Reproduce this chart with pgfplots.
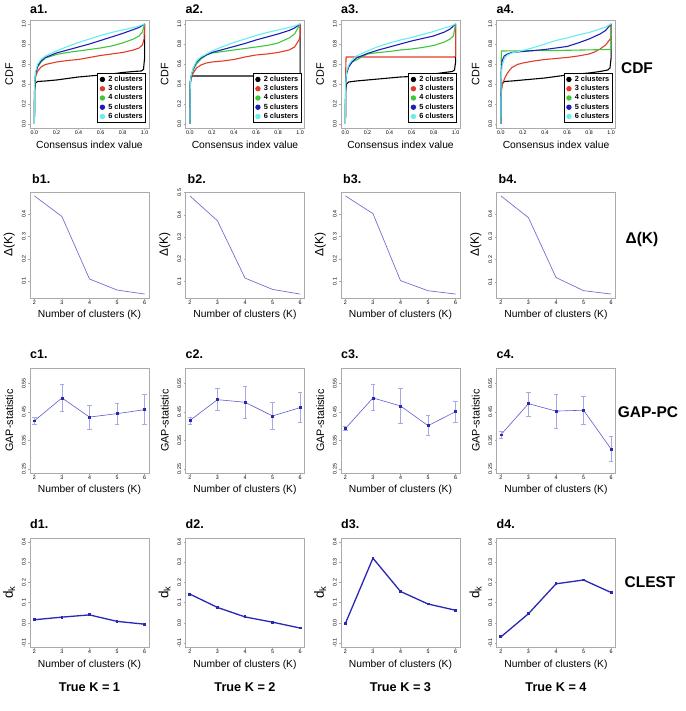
\documentclass[border=0pt]{standalone}
\usepackage{fontspec}
\setmainfont{Liberation Sans}
\usepackage{pgfplots}
\pgfplotsset{compat=1.18}
\definecolor{cR}{HTML}{E03C28}
\definecolor{cG}{HTML}{3CC83C}
\definecolor{cB}{HTML}{1E1EB4}
\definecolor{cC}{HTML}{66EEEE}
\definecolor{frameg}{HTML}{AAAAAA}
\definecolor{bline}{HTML}{7070D4}
\definecolor{gline}{HTML}{5A5AD2}
\definecolor{gmark}{HTML}{2828B0}
\definecolor{errc}{HTML}{A8A8E6}
\definecolor{dline}{HTML}{2828B4}
\pgfplotsset{
  rbase/.style={scale only axis, width=119pt,
    axis line style={draw=frameg, line width=0.7pt},
    tick style={draw=frameg, line width=0.4pt},
    tick align=outside, major tick length=1.6pt,
    xtick pos=bottom, ytick pos=left,
    ticklabel style={font=\fontsize{5.3}{6}\selectfont, inner sep=1pt},
    yticklabel style={rotate=90, anchor=south, inner sep=2.5pt},
    every axis y label/.style={at={(axis description cs:-0.175,0.5)}, rotate=90, anchor=center, font=\fontsize{10.8}{12}\selectfont},
    every axis x label/.style={at={(axis description cs:0.5,-0.16)}, anchor=center, font=\fontsize{10.3}{12}\selectfont},
  },
  cdfaxis/.style={rbase, height=108pt, xmin=-0.04, xmax=1.04, ymin=-0.04, ymax=1.04,
    xtick={0,0.2,0.4,0.6,0.8,1}, xticklabels={0.0,0.2,0.4,0.6,0.8,1.0},
    ytick={0,0.2,0.4,0.6,0.8,1}, yticklabels={0.0,0.2,0.4,0.6,0.8,1.0},
    xlabel={Consensus index value}, ylabel={CDF},
    legend image code/.code={\fill[##1] (0pt,0pt) circle (2.1pt);},
    legend style={at={(0.975,0.045)}, anchor=south east, draw=black, line width=1pt,
      font=\fontsize{7.4}{8}\selectfont\bfseries, row sep=1pt, inner sep=2pt,
      nodes={inner sep=0.7pt}, cells={anchor=west},
      /tikz/every odd column/.append style={column sep=2.5pt}},
  },
  cdfline/.style={line width=1.1pt, no marks},
  kaxis/.style={rbase, xmin=1.84, xmax=6.16, xtick={2,3,4,5,6}, xticklabels={2,3,4,5,6},
    xlabel={Number of clusters (K)}},
  daxis/.style={kaxis, height=106pt, enlarge y limits=0.04,
    ytick={0.1,0.2,0.3,0.4,0.5}, yticklabels={0.1,0.2,0.3,0.4,0.5}, ylabel={Δ(K)},
    ylabel style={font=\fontsize{12}{13}\selectfont}},
  bplot/.style={color=bline, line width=0.7pt, no marks},
  gaxis/.style={kaxis, height=105pt, ymin=0.236, ymax=0.604,
    ytick={0.25,0.35,0.45,0.55}, yticklabels={0.25,0.35,0.45,0.55}, ylabel={GAP-statistic}},
  gplot/.style={color=gline, line width=0.6pt, mark=square*, mark size=0.9pt,
    mark options={color=gmark},
    error bars/.cd, y dir=both, y explicit,
    error bar style={color=errc, line width=0.7pt},
    error mark options={rotate=90, mark size=2.2pt, color=errc, line width=0.7pt}},
  caxis/.style={kaxis, height=109pt, ymin=-0.12, ymax=0.42,
    ytick={-0.1,0,0.1,0.2,0.3,0.4}, yticklabels={-0.1,0.0,0.1,0.2,0.3,0.4},
    ylabel={d\textsubscript{k}}, ylabel style={font=\fontsize{13.5}{15}\selectfont}},
  cplot/.style={color=dline, line width=1.3pt, mark=square*, mark size=0.8pt},
}
\begin{document}
\begin{tikzpicture}[x=1pt,y=1pt]
\useasboundingbox (0,0) rectangle (685,711);

% ---------------- Row a: CDF ----------------
\begin{axis}[cdfaxis, at={(30pt,583pt)}, anchor=south west]
\addplot[cdfline, black] coordinates {(0,0) (0.001,0.33) (0.01,0.41) (0.03,0.425) (0.1,0.43) (0.2,0.44) (0.3,0.455) (0.4,0.47) (0.5,0.48) (0.6,0.49) (0.7,0.5) (0.8,0.515) (0.9,0.525) (0.97,0.53) (0.99,0.545) (1.0,0.66) (1.0,1.0)};
\addplot[cdfline, cR] coordinates {(0,0) (0.002,0.35) (0.01,0.47) (0.03,0.53) (0.06,0.57) (0.1,0.595) (0.2,0.62) (0.3,0.635) (0.4,0.645) (0.5,0.665) (0.6,0.685) (0.7,0.7) (0.8,0.715) (0.9,0.74) (0.95,0.76) (0.98,0.79) (0.995,0.85) (1.0,1.0)};
\addplot[cdfline, cG] coordinates {(0,0) (0.002,0.38) (0.01,0.5) (0.03,0.57) (0.06,0.62) (0.1,0.66) (0.2,0.695) (0.3,0.715) (0.4,0.73) (0.5,0.745) (0.6,0.76) (0.7,0.78) (0.8,0.81) (0.9,0.85) (0.95,0.88) (0.98,0.92) (1.0,1.0)};
\addplot[cdfline, cB] coordinates {(0,0) (0.002,0.38) (0.01,0.5) (0.03,0.58) (0.06,0.63) (0.1,0.665) (0.2,0.71) (0.3,0.74) (0.4,0.77) (0.5,0.8) (0.6,0.835) (0.7,0.87) (0.8,0.905) (0.9,0.945) (0.95,0.965) (1.0,1.0)};
\addplot[cdfline, cC] coordinates {(0,0) (0.002,0.4) (0.01,0.52) (0.03,0.6) (0.06,0.645) (0.1,0.68) (0.2,0.73) (0.3,0.775) (0.4,0.815) (0.5,0.85) (0.6,0.885) (0.7,0.915) (0.8,0.94) (0.9,0.965) (0.95,0.98) (1.0,1.0)};
\legend{2 clusters,3 clusters,4 clusters,5 clusters,6 clusters}
\end{axis}

\begin{axis}[cdfaxis, at={(185.5pt,583pt)}, anchor=south west]
\addplot[cdfline, black] coordinates {(0,0) (0.003,0.42) (0.01,0.465) (0.02,0.48) (1.0,0.48) (1.0,1.0)};
\addplot[cdfline, cR] coordinates {(0,0) (0.003,0.38) (0.01,0.45) (0.03,0.51) (0.06,0.56) (0.1,0.59) (0.15,0.61) (0.2,0.62) (0.3,0.63) (0.4,0.645) (0.5,0.67) (0.6,0.69) (0.7,0.7) (0.8,0.715) (0.9,0.74) (0.95,0.77) (0.99,0.84) (1.0,0.88) (1.0,1.0)};
\addplot[cdfline, cG] coordinates {(0,0) (0.003,0.4) (0.01,0.47) (0.03,0.54) (0.06,0.6) (0.1,0.65) (0.15,0.69) (0.2,0.71) (0.3,0.725) (0.4,0.74) (0.5,0.755) (0.6,0.77) (0.7,0.785) (0.8,0.81) (0.9,0.86) (0.95,0.9) (1.0,1.0)};
\addplot[cdfline, cB] coordinates {(0,0) (0.003,0.4) (0.01,0.47) (0.03,0.55) (0.06,0.62) (0.1,0.66) (0.15,0.69) (0.2,0.715) (0.3,0.745) (0.4,0.775) (0.5,0.805) (0.6,0.84) (0.7,0.87) (0.8,0.9) (0.9,0.935) (0.95,0.96) (1.0,1.0)};
\addplot[cdfline, cC] coordinates {(0,0) (0.003,0.4) (0.01,0.48) (0.03,0.56) (0.06,0.63) (0.1,0.67) (0.15,0.7) (0.2,0.73) (0.3,0.775) (0.4,0.815) (0.5,0.85) (0.6,0.885) (0.7,0.915) (0.8,0.94) (0.9,0.965) (0.95,0.98) (1.0,1.0)};
\legend{2 clusters,3 clusters,4 clusters,5 clusters,6 clusters}
\end{axis}

\begin{axis}[cdfaxis, at={(341pt,583pt)}, anchor=south west]
\addplot[cdfline, black] coordinates {(0,0) (0.002,0.32) (0.01,0.4) (0.03,0.42) (0.1,0.43) (0.2,0.44) (0.3,0.45) (0.4,0.46) (0.5,0.47) (0.6,0.475) (0.7,0.49) (0.8,0.5) (0.9,0.515) (0.97,0.525) (0.99,0.54) (1.0,0.62) (1.0,1.0)};
\addplot[cdfline, cR] coordinates {(0,0) (0.002,0.5) (0.006,0.67) (0.99,0.67) (1.0,0.68) (1.0,1.0)};
\addplot[cdfline, cG] coordinates {(0,0) (0.002,0.4) (0.01,0.52) (0.03,0.58) (0.06,0.62) (0.1,0.64) (0.15,0.67) (0.2,0.7) (0.3,0.715) (0.4,0.725) (0.5,0.74) (0.6,0.75) (0.7,0.765) (0.8,0.785) (0.9,0.82) (0.95,0.85) (0.98,0.88) (1.0,1.0)};
\addplot[cdfline, cB] coordinates {(0,0) (0.002,0.4) (0.01,0.5) (0.03,0.57) (0.06,0.62) (0.1,0.66) (0.2,0.705) (0.3,0.74) (0.4,0.77) (0.5,0.8) (0.6,0.83) (0.7,0.855) (0.8,0.88) (0.9,0.92) (0.95,0.95) (1.0,1.0)};
\addplot[cdfline, cC] coordinates {(0,0) (0.002,0.4) (0.01,0.52) (0.03,0.59) (0.06,0.64) (0.1,0.68) (0.2,0.73) (0.3,0.775) (0.4,0.81) (0.5,0.84) (0.6,0.865) (0.7,0.895) (0.8,0.925) (0.9,0.96) (0.95,0.975) (1.0,1.0)};
\legend{2 clusters,3 clusters,4 clusters,5 clusters,6 clusters}
\end{axis}

\begin{axis}[cdfaxis, at={(496.5pt,583pt)}, anchor=south west]
\addplot[cdfline, black] coordinates {(0,0) (0.002,0.3) (0.01,0.4) (0.03,0.425) (0.1,0.43) (0.2,0.44) (0.3,0.45) (0.4,0.46) (0.5,0.475) (0.6,0.49) (0.7,0.5) (0.8,0.51) (0.9,0.525) (0.97,0.54) (0.99,0.56) (1.0,0.66) (1.0,1.0)};
\addplot[cdfline, cR] coordinates {(0,0) (0.003,0.33) (0.01,0.38) (0.02,0.42) (0.04,0.47) (0.06,0.51) (0.08,0.54) (0.1,0.565) (0.15,0.595) (0.2,0.61) (0.3,0.63) (0.4,0.645) (0.5,0.655) (0.6,0.665) (0.7,0.68) (0.8,0.7) (0.85,0.72) (0.9,0.75) (0.95,0.79) (1.0,0.86) (1.0,1.0)};
\addplot[cdfline, cG] coordinates {(0,0) (0.002,0.6) (0.005,0.73) (0.5,0.735) (0.99,0.745) (1.0,0.75) (1.0,1.0)};
\addplot[cdfline, cB] coordinates {(0,0) (0.002,0.5) (0.01,0.63) (0.03,0.68) (0.06,0.7) (0.1,0.715) (0.2,0.725) (0.3,0.735) (0.4,0.745) (0.5,0.76) (0.6,0.775) (0.7,0.81) (0.8,0.85) (0.9,0.9) (0.95,0.935) (1.0,1.0)};
\addplot[cdfline, cC] coordinates {(0,0) (0.002,0.45) (0.01,0.58) (0.03,0.65) (0.06,0.69) (0.1,0.71) (0.2,0.735) (0.3,0.765) (0.4,0.8) (0.5,0.835) (0.6,0.86) (0.7,0.89) (0.8,0.915) (0.9,0.95) (0.95,0.97) (1.0,1.0)};
\legend{2 clusters,3 clusters,4 clusters,5 clusters,6 clusters}
\end{axis}

% ---------------- Row b: Delta(K) ----------------
\begin{axis}[daxis, at={(30pt,413pt)}, anchor=south west]
\addplot[bplot] coordinates {(2,0.48) (3,0.388) (4,0.11) (5,0.061) (6,0.043)};
\end{axis}
\begin{axis}[daxis, at={(185.5pt,413pt)}, anchor=south west]
\addplot[bplot] coordinates {(2,0.485) (3,0.373) (4,0.115) (5,0.064) (6,0.043)};
\end{axis}
\begin{axis}[daxis, at={(341pt,413pt)}, anchor=south west]
\addplot[bplot] coordinates {(2,0.482) (3,0.403) (4,0.103) (5,0.058) (6,0.043)};
\end{axis}
\begin{axis}[daxis, at={(496.5pt,413pt)}, anchor=south west]
\addplot[bplot] coordinates {(2,0.48) (3,0.384) (4,0.12) (5,0.062) (6,0.047)};
\end{axis}

% ---------------- Row c: GAP ----------------
\begin{axis}[gaxis, at={(30pt,238pt)}, anchor=south west]
\addplot[gplot] coordinates {(2,0.419) += (0,0.011) -= (0,0.011)
 (3,0.499) += (0,0.048) -= (0,0.047)
 (4,0.432) += (0,0.041) -= (0,0.043)
 (5,0.444) += (0,0.037) -= (0,0.038)
 (6,0.458) += (0,0.054) -= (0,0.053)};
\end{axis}
\begin{axis}[gaxis, at={(185.5pt,238pt)}, anchor=south west]
\addplot[gplot] coordinates {(2,0.42) += (0,0.01) -= (0,0.013)
 (3,0.493) += (0,0.041) -= (0,0.038)
 (4,0.484) += (0,0.054) -= (0,0.057)
 (5,0.436) += (0,0.046) -= (0,0.047)
 (6,0.465) += (0,0.055) -= (0,0.052)};
\end{axis}
\begin{axis}[gaxis, at={(341pt,238pt)}, anchor=south west]
\addplot[gplot] coordinates {(2,0.392) += (0,0.008) -= (0,0.008)
 (3,0.499) += (0,0.046) -= (0,0.044)
 (4,0.471) += (0,0.06) -= (0,0.062)
 (5,0.402) += (0,0.035) -= (0,0.035)
 (6,0.451) += (0,0.037) -= (0,0.038)};
\end{axis}
\begin{axis}[gaxis, at={(496.5pt,238pt)}, anchor=south west]
\addplot[gplot] coordinates {(2,0.37) += (0,0.011) -= (0,0.011)
 (3,0.479) += (0,0.04) -= (0,0.045)
 (4,0.453) += (0,0.059) -= (0,0.06)
 (5,0.456) += (0,0.05) -= (0,0.05)
 (6,0.32) += (0,0.044) -= (0,0.043)};
\end{axis}

% ---------------- Row d: CLEST ----------------
\begin{axis}[caxis, at={(30pt,64pt)}, anchor=south west]
\addplot[cplot] coordinates {(2,0.015) (3,0.028) (4,0.039) (5,0.007) (6,-0.007)};
\end{axis}
\begin{axis}[caxis, at={(185.5pt,64pt)}, anchor=south west]
\addplot[cplot] coordinates {(2,0.142) (3,0.076) (4,0.029) (5,0.003) (6,-0.026)};
\end{axis}
\begin{axis}[caxis, at={(341pt,64pt)}, anchor=south west]
\addplot[cplot] coordinates {(2,-0.003) (3,0.32) (4,0.155) (5,0.093) (6,0.062)};
\end{axis}
\begin{axis}[caxis, at={(496.5pt,64pt)}, anchor=south west]
\addplot[cplot] coordinates {(2,-0.07) (3,0.045) (4,0.193) (5,0.212) (6,0.15)};
\end{axis}

% ---------------- Panel labels ----------------
\begin{scope}[every node/.style={font=\fontsize{12.5}{14}\selectfont\bfseries, anchor=base west, inner sep=0pt}]
\node at (30,697.5) {a1.}; \node at (185.5,697.5) {a2.}; \node at (341,697.5) {a3.}; \node at (496.5,697.5) {a4.};
\node at (32,527.5) {b1.}; \node at (187.5,527.5) {b2.}; \node at (343,527.5) {b3.}; \node at (498.5,527.5) {b4.};
\node at (30,352.5) {c1.}; \node at (185.5,352.5) {c2.}; \node at (341,352.5) {c3.}; \node at (496.5,352.5) {c4.};
\node at (30,182.5) {d1.}; \node at (185.5,182.5) {d2.}; \node at (341,182.5) {d3.}; \node at (496.5,182.5) {d4.};
\end{scope}

% ---------------- Row labels ----------------
\begin{scope}[every node/.style={font=\fontsize{15.5}{18}\selectfont\bfseries, anchor=center, inner sep=0pt}]
\node at (637,643) {CDF};
\node at (642,471) {Δ(K)};
\node at (648,299) {GAP-PC};
\node at (650,129) {CLEST};
\end{scope}

% ---------------- Column labels ----------------
\begin{scope}[every node/.style={font=\fontsize{12.7}{14}\selectfont\bfseries, anchor=center, inner sep=0pt}]
\node at (89.5,24) {True K = 1};
\node at (245,24) {True K = 2};
\node at (400.5,24) {True K = 3};
\node at (556,24) {True K = 4};
\end{scope}
\end{tikzpicture}
\end{document}
